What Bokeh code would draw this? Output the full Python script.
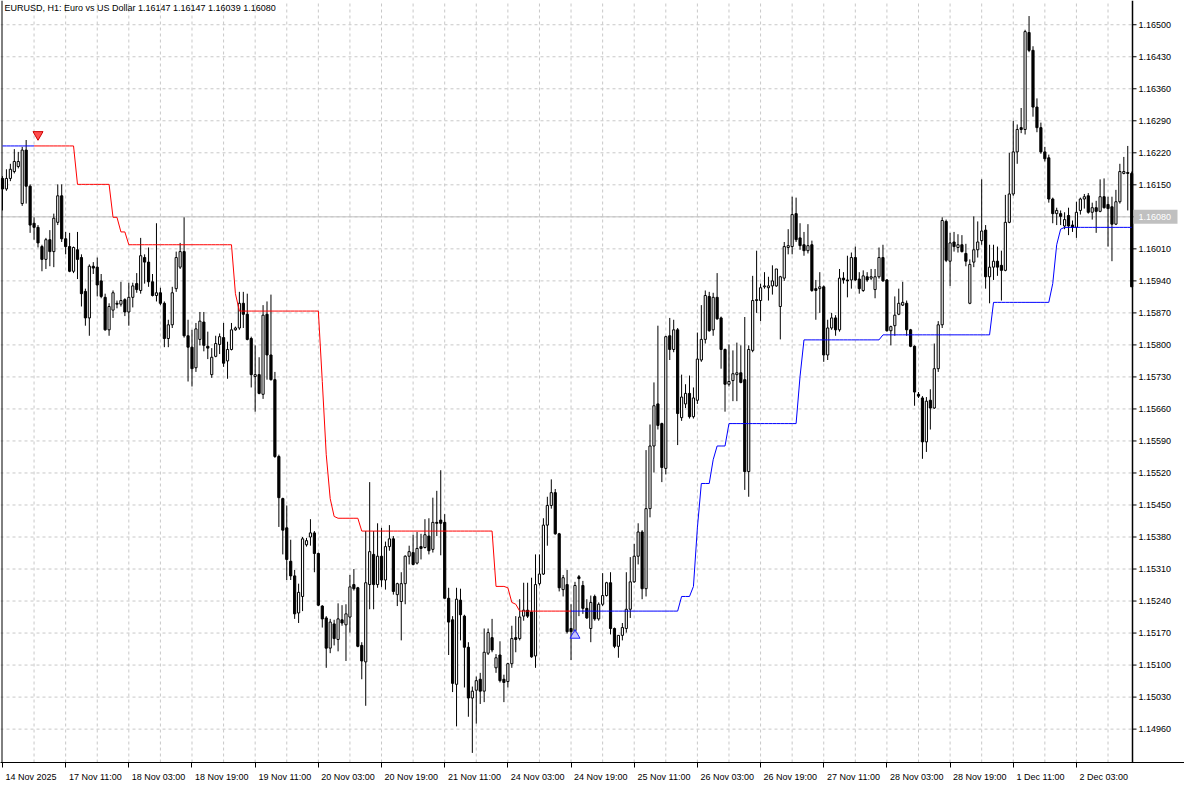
import numpy as np
from bokeh.plotting import figure
from bokeh.models import ColumnDataSource, FixedTicker
from bokeh.core.properties import value
from bokeh.embed import file_html
from bokeh.resources import INLINE

# ---------------- data (EURUSD H1) ----------------
opens = [
    1.16164, 1.16141, 1.16164, 1.16179, 1.16190, 1.16109, 1.16226, 1.16147, 1.16066, 1.16057,
    1.16015, 1.15987, 1.16030, 1.16004, 1.16068, 1.16126, 1.16032, 1.16015, 1.15961, 1.16008,
    1.15991, 1.15917, 1.15859, 1.15972, 1.15970, 1.15940, 1.15904, 1.15833, 1.15876, 1.15891,
    1.15889, 1.15899, 1.15872, 1.15904, 1.15934, 1.15919, 1.15991, 1.15981, 1.15938, 1.15908,
    1.15914, 1.15891, 1.15814, 1.15844, 1.15923, 1.15970, 1.16004, 1.15820, 1.15795, 1.15750,
    1.15812, 1.15850, 1.15797, 1.15735, 1.15775, 1.15801, 1.15816, 1.15765, 1.15790, 1.15833,
    1.15837, 1.15891, 1.15867, 1.15814, 1.15731, 1.15735, 1.15692, 1.15867, 1.15778, 1.15724,
    1.15556, 1.15464, 1.15400, 1.15327, 1.15295, 1.15214, 1.15250, 1.15363, 1.15380, 1.15389,
    1.15344, 1.15229, 1.15203, 1.15137, 1.15190, 1.15156, 1.15199, 1.15188, 1.15205, 1.15276,
    1.15269, 1.15143, 1.15107, 1.15276, 1.15342, 1.15276, 1.15338, 1.15286, 1.15359, 1.15376,
    1.15254, 1.15239, 1.15278, 1.15338, 1.15346, 1.15323, 1.15359, 1.15357, 1.15382, 1.15353,
    1.15412, 1.15417, 1.15412, 1.15246, 1.15199, 1.15058, 1.15242, 1.15207, 1.15139, 1.15028,
    1.15045, 1.15069, 1.15043, 1.15126, 1.15160, 1.15094, 1.15122, 1.15069, 1.15064, 1.15103,
    1.15160, 1.15158, 1.15207, 1.15220, 1.15216, 1.15120, 1.15278, 1.15299, 1.15406, 1.15449,
    1.15477, 1.15387, 1.15265, 1.15276, 1.15180, 1.15175, 1.15293, 1.15274, 1.15224, 1.15180,
    1.15250, 1.15201, 1.15233, 1.15252, 1.15280, 1.15180, 1.15141, 1.15165, 1.15180, 1.15222,
    1.15282, 1.15338, 1.15391, 1.15267, 1.15442, 1.15579, 1.15671, 1.15628, 1.15530, 1.15820,
    1.15790, 1.15833, 1.15641, 1.15671, 1.15694, 1.15643, 1.15679, 1.15767, 1.15812, 1.15906,
    1.15833, 1.15904, 1.15859, 1.15790, 1.15714, 1.15722, 1.15735, 1.15739, 1.15724, 1.15523,
    1.15788, 1.15897, 1.15897, 1.15927, 1.15925, 1.15929, 1.15929, 1.15884, 1.15946, 1.16013,
    1.16015, 1.16087, 1.16034, 1.16019, 1.16006, 1.16019, 1.15923, 1.15923, 1.15927, 1.15778,
    1.15837, 1.15859, 1.15833, 1.15946, 1.15942, 1.15942, 1.15991, 1.15944, 1.15919, 1.15949,
    1.15946, 1.15921, 1.15949, 1.15991, 1.15942, 1.15831, 1.15842, 1.15867, 1.15887, 1.15891,
    1.15833, 1.15797, 1.15692, 1.15684, 1.15588, 1.15679, 1.15662, 1.15748, 1.15844, 1.16070,
    1.15983, 1.16025, 1.16013, 1.16019, 1.16000, 1.15891, 1.15981, 1.16008, 1.16028, 1.16051,
    1.15949, 1.15970, 1.15983, 1.15974, 1.15963, 1.16068, 1.16130, 1.16222, 1.16275, 1.16271,
    1.16483, 1.16444, 1.16320, 1.16275, 1.16222, 1.16209, 1.16119, 1.16087, 1.16087, 1.16060,
    1.16083, 1.16062, 1.16057, 1.16094, 1.16119, 1.16126, 1.16090, 1.16100, 1.16092, 1.16124,
    1.16107, 1.16102, 1.16064, 1.16113, 1.16175, 1.16177, 1.16175,
]
highs = [
    1.16169, 1.16184, 1.16196, 1.16228, 1.16222, 1.16233, 1.16248, 1.16151, 1.16079, 1.16062,
    1.16019, 1.16034, 1.16051, 1.16087, 1.16151, 1.16151, 1.16047, 1.16045, 1.16015, 1.16047,
    1.15998, 1.15923, 1.15976, 1.15981, 1.15991, 1.15955, 1.15912, 1.15891, 1.15919, 1.15897,
    1.15938, 1.15902, 1.15936, 1.15936, 1.15957, 1.16034, 1.15998, 1.16013, 1.15955, 1.16066,
    1.15925, 1.15895, 1.15855, 1.15927, 1.16004, 1.16023, 1.16079, 1.15855, 1.15833, 1.15848,
    1.15872, 1.15872, 1.15829, 1.15793, 1.15820, 1.15825, 1.15848, 1.15807, 1.15848, 1.15840,
    1.15916, 1.15916, 1.15912, 1.15818, 1.15799, 1.15773, 1.15887, 1.15895, 1.15910, 1.15741,
    1.15560, 1.15466, 1.15449, 1.15374, 1.15308, 1.15278, 1.15380, 1.15378, 1.15419, 1.15393,
    1.15346, 1.15231, 1.15207, 1.15201, 1.15199, 1.15235, 1.15231, 1.15233, 1.15297, 1.15310,
    1.15271, 1.15150, 1.15393, 1.15500, 1.15393, 1.15410, 1.15400, 1.15370, 1.15406, 1.15382,
    1.15280, 1.15303, 1.15340, 1.15361, 1.15385, 1.15391, 1.15387, 1.15419, 1.15421, 1.15466,
    1.15481, 1.15526, 1.15430, 1.15269, 1.15207, 1.15269, 1.15267, 1.15210, 1.15150, 1.15053,
    1.15075, 1.15083, 1.15180, 1.15180, 1.15201, 1.15124, 1.15152, 1.15079, 1.15105, 1.15186,
    1.15207, 1.15244, 1.15280, 1.15280, 1.15291, 1.15342, 1.15342, 1.15421, 1.15468, 1.15506,
    1.15485, 1.15389, 1.15297, 1.15308, 1.15233, 1.15282, 1.15297, 1.15284, 1.15244, 1.15252,
    1.15254, 1.15237, 1.15301, 1.15282, 1.15303, 1.15182, 1.15165, 1.15192, 1.15303, 1.15336,
    1.15365, 1.15410, 1.15395, 1.15570, 1.15626, 1.15718, 1.15842, 1.15630, 1.15820, 1.15859,
    1.15855, 1.15837, 1.15735, 1.15714, 1.15733, 1.15707, 1.15827, 1.15887, 1.15919, 1.15916,
    1.15914, 1.15957, 1.15862, 1.15792, 1.15801, 1.15788, 1.15805, 1.15799, 1.15861, 1.15799,
    1.15951, 1.16006, 1.15934, 1.15959, 1.15949, 1.15974, 1.15966, 1.15951, 1.16025, 1.16053,
    1.16124, 1.16122, 1.16066, 1.16047, 1.16064, 1.16028, 1.15942, 1.15959, 1.15930, 1.15855,
    1.15870, 1.15865, 1.15966, 1.15959, 1.15995, 1.16002, 1.16015, 1.15959, 1.15963, 1.15959,
    1.15966, 1.15966, 1.16013, 1.16019, 1.15944, 1.15842, 1.15906, 1.15923, 1.15938, 1.15897,
    1.15835, 1.15799, 1.15697, 1.15688, 1.15686, 1.15703, 1.15803, 1.15852, 1.16079, 1.16074,
    1.16045, 1.16047, 1.16042, 1.16040, 1.16021, 1.15987, 1.16081, 1.16070, 1.16162, 1.16062,
    1.16019, 1.16019, 1.16015, 1.16006, 1.16128, 1.16220, 1.16290, 1.16282, 1.16318, 1.16489,
    1.16519, 1.16453, 1.16339, 1.16286, 1.16233, 1.16216, 1.16122, 1.16100, 1.16094, 1.16090,
    1.16100, 1.16072, 1.16113, 1.16122, 1.16130, 1.16132, 1.16111, 1.16115, 1.16162, 1.16164,
    1.16124, 1.16124, 1.16139, 1.16196, 1.16211, 1.16235, 1.16179,
]
lows = [
    1.16094, 1.16137, 1.16158, 1.16175, 1.16186, 1.16104, 1.16109, 1.16045, 1.16030, 1.16013,
    1.15961, 1.15966, 1.15972, 1.15970, 1.16062, 1.16025, 1.15998, 1.15959, 1.15957, 1.15944,
    1.15884, 1.15842, 1.15820, 1.15955, 1.15906, 1.15902, 1.15831, 1.15820, 1.15859, 1.15880,
    1.15884, 1.15863, 1.15842, 1.15882, 1.15914, 1.15912, 1.15934, 1.15927, 1.15906, 1.15895,
    1.15887, 1.15795, 1.15795, 1.15837, 1.15916, 1.15966, 1.15816, 1.15720, 1.15709, 1.15741,
    1.15799, 1.15786, 1.15769, 1.15728, 1.15773, 1.15780, 1.15752, 1.15726, 1.15788, 1.15831,
    1.15833, 1.15837, 1.15810, 1.15707, 1.15654, 1.15692, 1.15682, 1.15724, 1.15722, 1.15553,
    1.15402, 1.15342, 1.15286, 1.15286, 1.15201, 1.15192, 1.15218, 1.15359, 1.15361, 1.15303,
    1.15229, 1.15182, 1.15094, 1.15126, 1.15143, 1.15130, 1.15186, 1.15109, 1.15171, 1.15263,
    1.15139, 1.15069, 1.15011, 1.15222, 1.15222, 1.15269, 1.15271, 1.15265, 1.15350, 1.15254,
    1.15229, 1.15154, 1.15233, 1.15320, 1.15318, 1.15320, 1.15331, 1.15355, 1.15342, 1.15346,
    1.15382, 1.15340, 1.15246, 1.15122, 1.15041, 1.14966, 1.15154, 1.15051, 1.14987, 1.14908,
    1.14972, 1.15015, 1.15019, 1.15122, 1.15128, 1.15083, 1.15062, 1.15019, 1.15051, 1.15094,
    1.15128, 1.15154, 1.15197, 1.15203, 1.15116, 1.15094, 1.15274, 1.15297, 1.15361, 1.15442,
    1.15385, 1.15261, 1.15250, 1.15169, 1.15111, 1.15171, 1.15207, 1.15212, 1.15201, 1.15150,
    1.15197, 1.15197, 1.15229, 1.15250, 1.15167, 1.15137, 1.15116, 1.15154, 1.15171, 1.15203,
    1.15280, 1.15320, 1.15244, 1.15250, 1.15423, 1.15521, 1.15615, 1.15500, 1.15517, 1.15767,
    1.15784, 1.15581, 1.15634, 1.15662, 1.15639, 1.15639, 1.15671, 1.15763, 1.15803, 1.15829,
    1.15820, 1.15855, 1.15748, 1.15654, 1.15709, 1.15677, 1.15677, 1.15716, 1.15483, 1.15468,
    1.15784, 1.15870, 1.15852, 1.15923, 1.15897, 1.15910, 1.15927, 1.15812, 1.15940, 1.15998,
    1.15998, 1.16025, 1.16008, 1.15995, 1.16000, 1.15916, 1.15855, 1.15870, 1.15763, 1.15767,
    1.15833, 1.15820, 1.15829, 1.15934, 1.15904, 1.15923, 1.15940, 1.15912, 1.15916, 1.15938,
    1.15942, 1.15902, 1.15945, 1.15938, 1.15829, 1.15799, 1.15820, 1.15865, 1.15885, 1.15820,
    1.15795, 1.15667, 1.15684, 1.15551, 1.15566, 1.15615, 1.15660, 1.15741, 1.15837, 1.15981,
    1.15929, 1.16004, 1.16002, 1.16002, 1.15972, 1.15889, 1.15970, 1.15991, 1.16019, 1.15923,
    1.15891, 1.15942, 1.15951, 1.15897, 1.15961, 1.16066, 1.16126, 1.16196, 1.16263, 1.16260,
    1.16440, 1.16299, 1.16265, 1.16218, 1.16201, 1.16111, 1.16066, 1.16062, 1.16062, 1.16053,
    1.16040, 1.16047, 1.16034, 1.16085, 1.16098, 1.16087, 1.16074, 1.16045, 1.16090, 1.16098,
    1.16015, 1.15983, 1.16062, 1.16109, 1.16173, 1.16094, 1.15927,
]
closes = [
    1.16141, 1.16164, 1.16184, 1.16201, 1.16201, 1.16226, 1.16147, 1.16062, 1.16057, 1.16023,
    1.15987, 1.16030, 1.16004, 1.16077, 1.16126, 1.16032, 1.16015, 1.15961, 1.16013, 1.15987,
    1.15912, 1.15859, 1.15972, 1.15968, 1.15931, 1.15906, 1.15833, 1.15884, 1.15914, 1.15889,
    1.15897, 1.15872, 1.15904, 1.15929, 1.15921, 1.15995, 1.15981, 1.15938, 1.15908, 1.15914,
    1.15891, 1.15814, 1.15844, 1.15914, 1.15991, 1.16004, 1.15820, 1.15795, 1.15748, 1.15835,
    1.15852, 1.15799, 1.15793, 1.15773, 1.15803, 1.15818, 1.15760, 1.15790, 1.15833, 1.15837,
    1.15891, 1.15867, 1.15812, 1.15735, 1.15735, 1.15694, 1.15865, 1.15778, 1.15724, 1.15556,
    1.15466, 1.15395, 1.15331, 1.15295, 1.15212, 1.15259, 1.15376, 1.15372, 1.15389, 1.15344,
    1.15231, 1.15201, 1.15137, 1.15194, 1.15158, 1.15201, 1.15192, 1.15212, 1.15271, 1.15267,
    1.15141, 1.15109, 1.15280, 1.15348, 1.15276, 1.15338, 1.15286, 1.15359, 1.15376, 1.15261,
    1.15278, 1.15278, 1.15338, 1.15348, 1.15320, 1.15355, 1.15355, 1.15385, 1.15350, 1.15412,
    1.15410, 1.15410, 1.15246, 1.15194, 1.15060, 1.15244, 1.15210, 1.15139, 1.15028, 1.15043,
    1.15066, 1.15043, 1.15128, 1.15171, 1.15133, 1.15116, 1.15066, 1.15062, 1.15103, 1.15158,
    1.15156, 1.15205, 1.15220, 1.15207, 1.15118, 1.15276, 1.15299, 1.15406, 1.15449, 1.15477,
    1.15387, 1.15269, 1.15291, 1.15173, 1.15173, 1.15274, 1.15289, 1.15224, 1.15203, 1.15237,
    1.15201, 1.15233, 1.15252, 1.15280, 1.15180, 1.15141, 1.15165, 1.15182, 1.15222, 1.15282,
    1.15338, 1.15391, 1.15267, 1.15442, 1.15579, 1.15667, 1.15624, 1.15532, 1.15818, 1.15790,
    1.15833, 1.15650, 1.15686, 1.15694, 1.15643, 1.15684, 1.15769, 1.15812, 1.15908, 1.15831,
    1.15904, 1.15857, 1.15790, 1.15714, 1.15720, 1.15737, 1.15739, 1.15718, 1.15523, 1.15790,
    1.15897, 1.15899, 1.15925, 1.15929, 1.15929, 1.15940, 1.15966, 1.15949, 1.16015, 1.16017,
    1.16085, 1.16030, 1.16017, 1.16006, 1.16017, 1.15919, 1.15919, 1.15927, 1.15778, 1.15837,
    1.15859, 1.15833, 1.15946, 1.15942, 1.15940, 1.15991, 1.15942, 1.15923, 1.15951, 1.15942,
    1.15949, 1.15949, 1.15991, 1.15940, 1.15831, 1.15840, 1.15865, 1.15891, 1.15893, 1.15833,
    1.15797, 1.15697, 1.15688, 1.15588, 1.15677, 1.15662, 1.15748, 1.15844, 1.16072, 1.15985,
    1.16023, 1.16015, 1.16019, 1.16004, 1.15983, 1.15976, 1.16008, 1.16025, 1.16049, 1.15949,
    1.15970, 1.15983, 1.15970, 1.15963, 1.16068, 1.16130, 1.16222, 1.16271, 1.16271, 1.16485,
    1.16444, 1.16320, 1.16275, 1.16222, 1.16207, 1.16119, 1.16087, 1.16094, 1.16081, 1.16074,
    1.16060, 1.16057, 1.16090, 1.16119, 1.16124, 1.16090, 1.16100, 1.16092, 1.16124, 1.16100,
    1.16098, 1.16064, 1.16113, 1.16179, 1.16179, 1.16175, 1.15927,
]

# trailing-stop indicator: (level, number of bars)
trail_runs = [
    (1.16235, 19), (1.16151, 9), (1.16079, 2), (1.16047, 2), (1.16019, 27),
    (1.15912, 1), (1.15874, 21), (1.15720, 1), (1.15560, 1), (1.15464, 1),
    (1.15425, 1), (1.15421, 6), (1.15393, 34), (1.15272, 3), (1.15269, 1),
    (1.15237, 1), (1.15233, 1), (1.15218, 41), (1.15250, 3), (1.15272, 1),
    (1.15400, 1), (1.15497, 3), (1.15549, 1), (1.15579, 3), (1.15628, 18),
    (1.15731, 1), (1.15811, 20), (1.15822, 28), (1.15893, 15), (1.15934, 1),
    (1.16019, 1), (1.16053, 1), (1.16057, 18),
]
# trend direction of the indicator: (direction, number of bars)
trend_runs = [("up", 9), ("down", 135), ("up", 143)]

# signal arrows
signal_bars = [9, 145]
signal_prices = [1.16260, 1.15165]
signal_kinds = ["sell", "buy"]

x_labels = ["14 Nov 2025", "17 Nov 11:00", "18 Nov 03:00", "18 Nov 19:00",
            "19 Nov 11:00", "20 Nov 03:00", "20 Nov 19:00", "21 Nov 11:00",
            "24 Nov 03:00", "24 Nov 19:00", "25 Nov 11:00", "26 Nov 03:00",
            "26 Nov 19:00", "27 Nov 11:00", "28 Nov 03:00", "28 Nov 19:00",
            "1 Dec 11:00", "2 Dec 03:00"]
label_step = 16
grid_step = 8
price_ticks = [1.14960, 1.15030, 1.15100, 1.15170, 1.15240, 1.15310, 1.15380,
               1.15450, 1.15520, 1.15590, 1.15660, 1.15730, 1.15800, 1.15870,
               1.15940, 1.16010, 1.16080, 1.16150, 1.16220, 1.16290, 1.16360,
               1.16430, 1.16500]
current_price = 1.16080
title_text = "EURUSD, H1:  Euro vs US Dollar  1.16147 1.16147 1.16039 1.16080"

# ---------------- layout constants ----------------
FONT = "Liberation Sans"
FS = 9                      # font size, px
W, H = 1184, 784            # figure size
BOTTOM = 20                 # px under the chart for the time scale
CHART_W = 1132              # px of the candle area; the rest is the price scale
FRAME_H = H - BOTTOM

n = len(opens)
idx = np.arange(n)
o = np.array(opens); h = np.array(highs); l = np.array(lows); c = np.array(closes)
bull = c >= o

y_lo, y_hi = 1.14887, 1.16553
x_lo, x_hi = -0.5, 286.2
bar_px = CHART_W / (x_hi - x_lo)
x_end = x_lo + W / bar_px
ppx = (y_hi - y_lo) / FRAME_H     # price per pixel


def px_x(v):
    return v / bar_px


def text_w(s, size=FS):
    wd = {" ": .278, ":": .278, ".": .278, "N": .722, "D": .722, "o": .556,
          "v": .5, "e": .556, "c": .5}
    return sum(wd.get(ch, .556) for ch in s) * size


p = figure(width=W, height=H, x_range=(x_lo, x_end), y_range=(y_lo, y_hi),
           y_axis_location=None, toolbar_location=None, output_backend="svg",
           min_border_left=0, min_border_top=0, min_border_right=0,
           min_border_bottom=BOTTOM, background_fill_color="white",
           border_fill_color="white", outline_line_color=None)
p.xgrid.visible = False
p.ygrid.visible = False

# grid (dashed, only inside the candle area)
p.segment(x0=[x_lo] * len(price_ticks), x1=[x_hi] * len(price_ticks),
          y0=price_ticks, y1=price_ticks, line_color="#c8c8c8", line_dash="3 3",
          line_width=1)
vg = list(range(grid_step, n, grid_step))
p.segment(x0=vg, x1=vg, y0=[y_lo] * len(vg), y1=[y_hi] * len(vg),
          line_color="#c8c8c8", line_dash="3 3", line_width=1)

# current price line
p.segment(x0=[x_lo], x1=[x_hi], y0=[current_price], y1=[current_price],
          line_color="#c0c0c0", line_width=1)

# borders of the candle area
p.segment(x0=[x_lo + px_x(1.5)], x1=[x_lo + px_x(1.5)], y0=[y_lo], y1=[y_hi],
          line_color="black", line_width=1)
p.segment(x0=[x_hi], x1=[x_hi], y0=[y_lo], y1=[y_hi], line_color="black",
          line_width=1.5)

# wicks and bodies
p.segment(x0=idx, y0=l, x1=idx, y1=h, line_color="black", line_width=1)
bull_src = ColumnDataSource(dict(x=idx[bull], top=c[bull], bottom=o[bull]))
bear_src = ColumnDataSource(dict(x=idx[~bull], top=o[~bull], bottom=c[~bull]))
p.vbar(x="x", top="top", bottom="bottom", width=0.55, source=bull_src,
       fill_color="white", line_color="black", line_width=1)
p.vbar(x="x", top="top", bottom="bottom", width=0.55, source=bear_src,
       fill_color="black", line_color="black", line_width=1)

# trailing stop indicator
levels = np.concatenate([[v] * cnt for v, cnt in trail_runs])
dirs = sum([[d] * cnt for d, cnt in trend_runs], [])
red = np.full(n, np.nan)
blue = np.full(n, np.nan)
for i in range(n):
    if dirs[i] == "down":
        for j in (i - 1, i, i + 1):
            if 0 <= j < n:
                red[j] = levels[j]
    else:
        blue[i] = levels[i]
p.line(idx, red, line_color="#ff0000", line_width=1)
p.line(idx, blue, line_color="#0000ff", line_width=1)

# signal arrows
for b, pr, k in zip(signal_bars, signal_prices, signal_kinds):
    if k == "sell":
        p.scatter([b], [pr], marker="inverted_triangle", size=10,
                  fill_color="#ff3030", line_color="#d00000", fill_alpha=0.85)
    else:
        p.scatter([b], [pr], marker="triangle", size=10,
                  fill_color="#a0a0ff", line_color="#2020ff", fill_alpha=0.6)

# price scale: ticks, labels and current price tag
pt = [t for t in price_ticks]
p.segment(x0=[x_hi] * len(pt), x1=[x_hi + px_x(4)] * len(pt), y0=pt, y1=pt,
          line_color="black", line_width=1)
lbl = [t for t in pt if abs(t - current_price) > 1e-9]
p.text(x=[x_hi + px_x(6)] * len(lbl), y=lbl, text=["%.5f" % t for t in lbl],
       text_font=value(FONT), text_font_size="%dpx" % FS, text_color="black",
       text_baseline="middle", text_align="left")
p.quad(left=[x_hi + px_x(1)], right=[x_hi + px_x(45)],
       bottom=[current_price - 7 * ppx], top=[current_price + 7 * ppx],
       fill_color="#c0c0c0", line_color=None)
p.text(x=[x_hi + px_x(6)], y=[current_price], text=["%.5f" % current_price],
       text_font=value(FONT), text_font_size="%dpx" % FS, text_color="white",
       text_baseline="middle", text_align="left")

# title
p.text(x=[x_lo + px_x(4)], y=[y_hi - 3 * ppx], text=[title_text],
       text_font=value(FONT), text_font_size="%dpx" % FS, text_color="black",
       text_baseline="top", text_align="left")

# time scale: ticks at the label positions, texts placed to the right of them
label_pos = [k * label_step for k in range(len(x_labels))]
centers = [pos + px_x(3 + text_w(s) / 2) for pos, s in zip(label_pos, x_labels)]
xa = p.xaxis[0]
xa.ticker = FixedTicker(ticks=centers, minor_ticks=label_pos)
xa.major_label_overrides = {cx: s for cx, s in zip(centers, x_labels)}
xa.major_label_text_font = FONT
xa.major_label_text_font_size = "%dpx" % FS
xa.major_label_text_color = "black"
xa.major_label_standoff = 4
xa.major_tick_out = 0
xa.major_tick_in = 0
xa.minor_tick_out = 5
xa.minor_tick_in = 0
xa.axis_line_color = "black"

open("out.html", "w").write(file_html(p, INLINE))
